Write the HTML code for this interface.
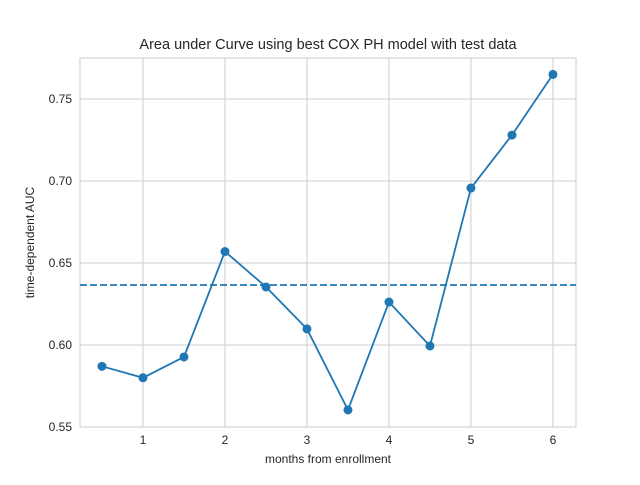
<!DOCTYPE html>
<html><head><meta charset="utf-8"><style>
body{margin:0;background:#fff;}
svg text{font-family:"Liberation Sans",sans-serif;}
</style></head><body>
<svg id="chart" width="640" height="480" xmlns="http://www.w3.org/2000/svg"></svg>
<script>
const months = [0.5,1,1.5,2,2.5,3,3.5,4,4.5,5,5.5,6];
const aucValues = [0.587,0.580,0.5927,0.657,0.6354,0.6098,0.5604,0.6262,0.5994,0.6957,0.728,0.765];
const meanAuc = [0.6366];
const xTicks = [1,2,3,4,5,6];
const yTicks = [0.55,0.60,0.65,0.70,0.75];
const yTickLabels = ["0.55","0.60","0.65","0.70","0.75"];

const L=80,R=576,T=58,B=427;
const xMin=0.232,xMax=6.281,yMin=0.55,yMax=0.775;
const sx=v=>L+(v-xMin)/(xMax-xMin)*(R-L);
const sy=v=>B-(v-yMin)/(yMax-yMin)*(B-T);
const svg=document.getElementById('chart');
const NS='http://www.w3.org/2000/svg';
function mk(tag,attrs,parent){const e=document.createElementNS(NS,tag);for(const k in attrs)e.setAttribute(k,attrs[k]);(parent||svg).appendChild(e);return e;}

xTicks.forEach(t=>{
  const g=mk('line',{x1:sx(t),x2:sx(t),y1:T,y2:B,stroke:'#cccccc','stroke-width':1});
  
  
  const tx=mk('text',{x:sx(t),y:B+17,'text-anchor':'middle','font-size':12,fill:'#262626'});
  tx.textContent=t;
  
  
});
yTicks.forEach((t,i)=>{
  const g=mk('line',{x1:L,x2:R,y1:sy(t),y2:sy(t),stroke:'#cccccc','stroke-width':1});
  
  
  const tx=mk('text',{x:L-8,y:sy(t)+4,'text-anchor':'end','font-size':12,fill:'#262626'});
  tx.textContent=yTickLabels[i];
  
  
});
const frame=mk('rect',{x:L,y:T,width:R-L,height:B-T,fill:'none',stroke:'#cccccc','stroke-width':1});



const ml=mk('line',{x1:L,x2:R,y1:sy(meanAuc[0]),y2:sy(meanAuc[0]),stroke:'#1f77b4','stroke-width':1.8,'stroke-dasharray':'7,3'});



const pl=mk('polyline',{points:months.map((m,i)=>sx(m)+','+sy(aucValues[i])).join(' '),fill:'none',stroke:'#1f77b4','stroke-width':1.8});


months.forEach((m,i)=>{
  const c=mk('circle',{cx:sx(m),cy:sy(aucValues[i]),r:4.5,fill:'#1f77b4'});
  
  
});

const title=mk('text',{x:(L+R)/2,y:49,'text-anchor':'middle','font-size':14.5,fill:'#262626'});
title.textContent='Area under Curve using best COX PH model with test data';


const xl=mk('text',{x:(L+R)/2,y:463,'text-anchor':'middle','font-size':12,fill:'#262626'});
xl.textContent='months from enrollment';


const yl=mk('text',{x:34,y:(T+B)/2,'text-anchor':'middle','font-size':12,fill:'#262626',transform:'rotate(-90 34 '+((T+B)/2)+')'});
yl.textContent='time-dependent AUC';


</script>
</body></html>
